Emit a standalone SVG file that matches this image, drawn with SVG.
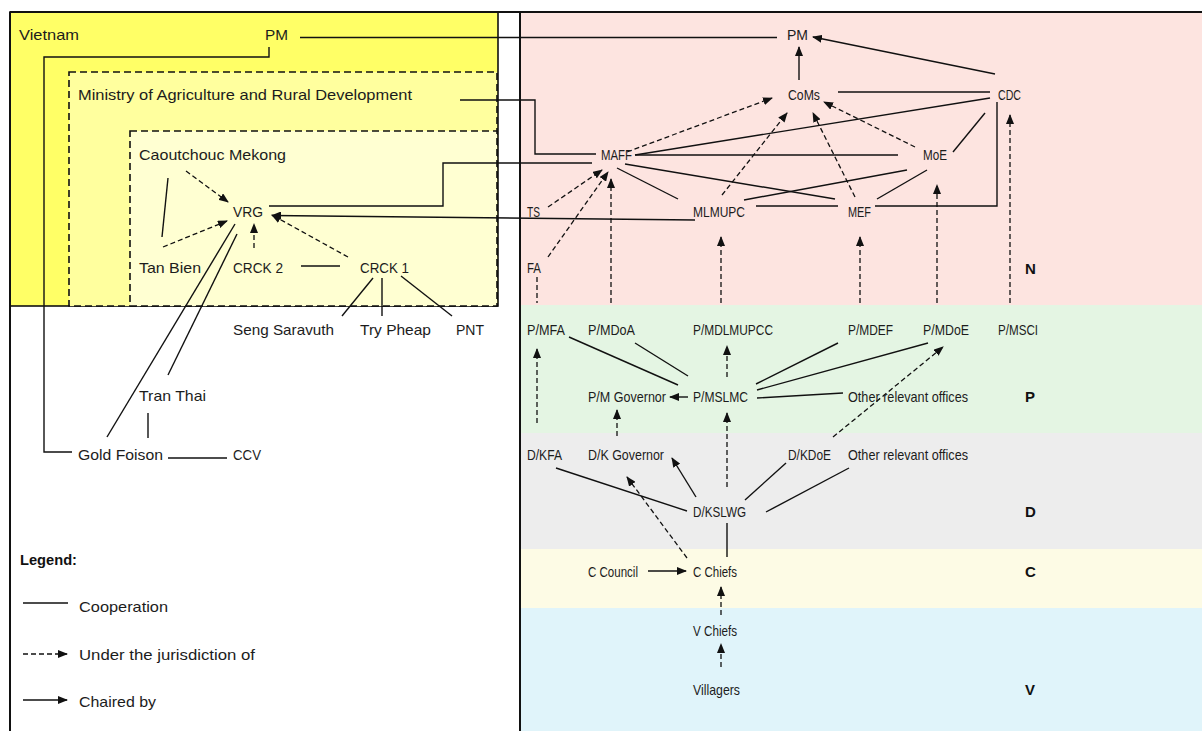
<svg xmlns="http://www.w3.org/2000/svg" width="1202" height="731" viewBox="0 0 1202 731">
<defs>
<marker id="ah" markerUnits="userSpaceOnUse" markerWidth="10" markerHeight="8" refX="9" refY="4" orient="auto">
<path d="M0,0 L10,4 L0,8 z" fill="#111"/>
</marker>
<style>
text{font-family:"Liberation Sans",Arial,sans-serif;font-size:15px;fill:#1c1c1c}
.b{font-weight:bold;fill:#111}
.s{fill:none;stroke:#111;stroke-width:1.4}
.d{fill:none;stroke:#111;stroke-width:1.3;stroke-dasharray:5,3}
.a{marker-end:url(#ah)}
</style>
</defs>
<rect width="1202" height="731" fill="#ffffff"/>
<!-- right panel zones -->
<rect x="520" y="12" width="682" height="293" fill="#fde4e0"/>
<rect x="520" y="305" width="682" height="128" fill="#e4f5e3"/>
<rect x="520" y="433" width="682" height="116" fill="#ededed"/>
<rect x="520" y="549" width="682" height="59" fill="#fdfbe5"/>
<rect x="520" y="608" width="682" height="123" fill="#e0f4fa"/>
<!-- left boxes -->
<rect x="10" y="12" width="488" height="294" fill="#ffff66" stroke="#111" stroke-width="1.6"/>
<rect x="69" y="72" width="428" height="234" fill="#ffff9e" stroke="#111" stroke-width="1.6" stroke-dasharray="7,4"/>
<rect x="130" y="131" width="367" height="175" fill="#ffffd2" stroke="#111" stroke-width="1.6" stroke-dasharray="7,4"/>
<!-- frame -->
<path d="M10,12 H1202 M10,12 V731 M520,12 V731" fill="none" stroke="#111" stroke-width="2"/>

<g id="connectors">
<path class="s" d="M300,37.5 H777"/>
<path class="s" d="M269,47 V57 H44 V452 H72"/>
<path class="s" d="M460,100 H535 V154 H596"/>
<path class="s" d="M269,206 H443 V163 H592"/>
<path class="s" d="M168,178 L162,237"/>
<path class="s" d="M301,266 H340"/>
<path class="s" d="M235,224 L107,437"/>
<path class="s" d="M237,234 L168,375"/>
<path class="s" d="M148,413 V438"/>
<path class="s" d="M168,458 H227"/>
<path class="s" d="M373,278 L342,316"/>
<path class="s" d="M382,278 V316"/>
<path class="s" d="M401,276 L452,316"/>
<path class="s" d="M838,92 H990"/>
<path class="s" d="M990,98 L635,155"/>
<path class="s" d="M985,113 L953,152"/>
<path class="s" d="M997,102 V206 H875"/>
<path class="s" d="M635,155 H898"/>
<path class="s" d="M617,168 L678,199"/>
<path class="s" d="M625,164 L835,199"/>
<path class="s" d="M744,200 L907,170"/>
<path class="s" d="M877,199 L927,170"/>
<path class="s" d="M756,206 H838"/>
<path class="s" d="M569,337 L678,385"/>
<path class="s" d="M635,343 L688,376"/>
<path class="s" d="M838,343 L756,384"/>
<path class="s" d="M928,343 L757,390"/>
<path class="s" d="M843,393 L757,398"/>
<path class="s" d="M556,468 L687,511"/>
<path class="s" d="M786,463 L745,500"/>
<path class="s" d="M849,468 L766,512"/>
<path class="s" d="M727,523 V557"/>
<path class="d" d="M537,277 V303"/>
<!-- chaired by -->
<path class="s a" d="M799,80 V47"/>
<path class="s a" d="M995,74 L813,37"/>
<path class="s a" d="M695,220 L272,215.5"/>
<path class="s a" d="M688,397 H670"/>
<path class="s a" d="M696,497 L672,458"/>
<path class="s a" d="M648,571 H686"/>
<!-- jurisdiction -->
<path class="d a" d="M186,171 L228,202"/>
<path class="d a" d="M163,247 L227,221"/>
<path class="d a" d="M254,248 V224"/>
<path class="d a" d="M348,257 L272,215"/>
<path class="d a" d="M627,152 L772,98"/>
<path class="d a" d="M722,195 L787,113"/>
<path class="d a" d="M855,197 L813,113"/>
<path class="d a" d="M915,147 L824,102"/>
<path class="d a" d="M548,207 L602,170"/>
<path class="d a" d="M548,257 L608,172"/>
<path class="d a" d="M611,303 V179"/>
<path class="d a" d="M721,303 V237"/>
<path class="d a" d="M860,303 V237"/>
<path class="d a" d="M937,303 V185"/>
<path class="d a" d="M1010,303 V115"/>
<path class="d a" d="M537,423 V349"/>
<path class="d a" d="M727,377 V346"/>
<path class="d a" d="M833,437 L943,347"/>
<path class="d a" d="M617,436 V410"/>
<path class="d a" d="M727,487 V413"/>
<path class="d a" d="M687,558 L627,477"/>
<path class="d a" d="M721,615 V587"/>
<path class="d a" d="M721,667 V644"/>
</g>

<g id="vietnam"><text x="19" y="40" textLength="60" lengthAdjust="spacingAndGlyphs">Vietnam</text></g>
<g id="pm-vn"><text x="265" y="40" textLength="23" lengthAdjust="spacingAndGlyphs">PM</text></g>
<g id="mard"><text x="78" y="100" textLength="334" lengthAdjust="spacingAndGlyphs">Ministry of Agriculture and Rural Development</text></g>
<g id="caoutchouc"><text x="139" y="160" textLength="147" lengthAdjust="spacingAndGlyphs">Caoutchouc Mekong</text></g>
<g id="vrg"><text x="233" y="217" textLength="30" lengthAdjust="spacingAndGlyphs">VRG</text></g>
<g id="tanbien"><text x="139" y="273" textLength="62" lengthAdjust="spacingAndGlyphs">Tan Bien</text></g>
<g id="crck2"><text x="233" y="273" textLength="50" lengthAdjust="spacingAndGlyphs">CRCK 2</text></g>
<g id="crck1"><text x="360" y="273" textLength="49" lengthAdjust="spacingAndGlyphs">CRCK 1</text></g>
<g id="seng"><text x="233" y="335" textLength="101" lengthAdjust="spacingAndGlyphs">Seng Saravuth</text></g>
<g id="trypheap"><text x="360" y="335" textLength="71" lengthAdjust="spacingAndGlyphs">Try Pheap</text></g>
<g id="pnt"><text x="456" y="335" textLength="28" lengthAdjust="spacingAndGlyphs">PNT</text></g>
<g id="tranthai"><text x="139" y="401" textLength="67" lengthAdjust="spacingAndGlyphs">Tran Thai</text></g>
<g id="goldfoison"><text x="78" y="460" textLength="85" lengthAdjust="spacingAndGlyphs">Gold Foison</text></g>
<g id="ccv"><text x="233" y="460" textLength="28" lengthAdjust="spacingAndGlyphs">CCV</text></g>

<g id="legend">
<text class="b" x="20" y="565" textLength="57" lengthAdjust="spacingAndGlyphs">Legend:</text>
<path class="s" d="M23,603 H68"/>
<text x="79" y="612" textLength="89" lengthAdjust="spacingAndGlyphs">Cooperation</text>
<path class="d a" d="M23,654 H67"/>
<text x="79" y="660" textLength="176" lengthAdjust="spacingAndGlyphs">Under the jurisdiction of</text>
<path class="s a" d="M23,700 H67"/>
<text x="79" y="707" textLength="77" lengthAdjust="spacingAndGlyphs">Chaired by</text>
</g>

<g id="pm-kh"><text x="787" y="40" textLength="21" lengthAdjust="spacingAndGlyphs">PM</text></g>
<g id="coms"><text x="788" y="100" textLength="32" lengthAdjust="spacingAndGlyphs">CoMs</text></g>
<g id="cdc"><text x="998" y="100" textLength="23" lengthAdjust="spacingAndGlyphs">CDC</text></g>
<g id="maff"><text x="601" y="160" textLength="31" lengthAdjust="spacingAndGlyphs">MAFF</text></g>
<g id="moe"><text x="923" y="160" textLength="24" lengthAdjust="spacingAndGlyphs">MoE</text></g>
<g id="ts"><text x="527" y="217" textLength="13" lengthAdjust="spacingAndGlyphs">TS</text></g>
<g id="mlmupc"><text x="693" y="217" textLength="52" lengthAdjust="spacingAndGlyphs">MLMUPC</text></g>
<g id="mef"><text x="848" y="217" textLength="23" lengthAdjust="spacingAndGlyphs">MEF</text></g>
<g id="fa"><text x="527" y="273" textLength="14" lengthAdjust="spacingAndGlyphs">FA</text></g>
<g id="lvl-n"><text class="b" x="1025" y="274">N</text></g>

<g id="pmfa"><text x="527" y="335" textLength="38" lengthAdjust="spacingAndGlyphs">P/MFA</text></g>
<g id="pmdoa"><text x="588" y="335" textLength="47" lengthAdjust="spacingAndGlyphs">P/MDoA</text></g>
<g id="pmdlmupcc"><text x="693" y="335" textLength="80" lengthAdjust="spacingAndGlyphs">P/MDLMUPCC</text></g>
<g id="pmdef"><text x="848" y="335" textLength="45" lengthAdjust="spacingAndGlyphs">P/MDEF</text></g>
<g id="pmdoe"><text x="923" y="335" textLength="46" lengthAdjust="spacingAndGlyphs">P/MDoE</text></g>
<g id="pmsci"><text x="998" y="335" textLength="40" lengthAdjust="spacingAndGlyphs">P/MSCI</text></g>
<g id="pmgov"><text x="588" y="402" textLength="78" lengthAdjust="spacingAndGlyphs">P/M Governor</text></g>
<g id="pmslmc"><text x="693" y="402" textLength="55" lengthAdjust="spacingAndGlyphs">P/MSLMC</text></g>
<g id="p-other"><text x="848" y="402" textLength="120" lengthAdjust="spacingAndGlyphs">Other relevant offices</text></g>
<g id="lvl-p"><text class="b" x="1025" y="402">P</text></g>

<g id="dkfa"><text x="527" y="460" textLength="35" lengthAdjust="spacingAndGlyphs">D/KFA</text></g>
<g id="dkgov"><text x="588" y="460" textLength="76" lengthAdjust="spacingAndGlyphs">D/K Governor</text></g>
<g id="dkdoe"><text x="788" y="460" textLength="43" lengthAdjust="spacingAndGlyphs">D/KDoE</text></g>
<g id="d-other"><text x="848" y="460" textLength="120" lengthAdjust="spacingAndGlyphs">Other relevant offices</text></g>
<g id="dkslwg"><text x="693" y="517" textLength="53" lengthAdjust="spacingAndGlyphs">D/KSLWG</text></g>
<g id="lvl-d"><text class="b" x="1025" y="517">D</text></g>

<g id="ccouncil"><text x="588" y="577" textLength="50" lengthAdjust="spacingAndGlyphs">C Council</text></g>
<g id="cchiefs"><text x="693" y="577" textLength="44" lengthAdjust="spacingAndGlyphs">C Chiefs</text></g>
<g id="lvl-c"><text class="b" x="1025" y="577">C</text></g>
<g id="vchiefs"><text x="693" y="636" textLength="44" lengthAdjust="spacingAndGlyphs">V Chiefs</text></g>
<g id="villagers"><text x="693" y="695" textLength="47" lengthAdjust="spacingAndGlyphs">Villagers</text></g>
<g id="lvl-v"><text class="b" x="1025" y="695">V</text></g>
</svg>
